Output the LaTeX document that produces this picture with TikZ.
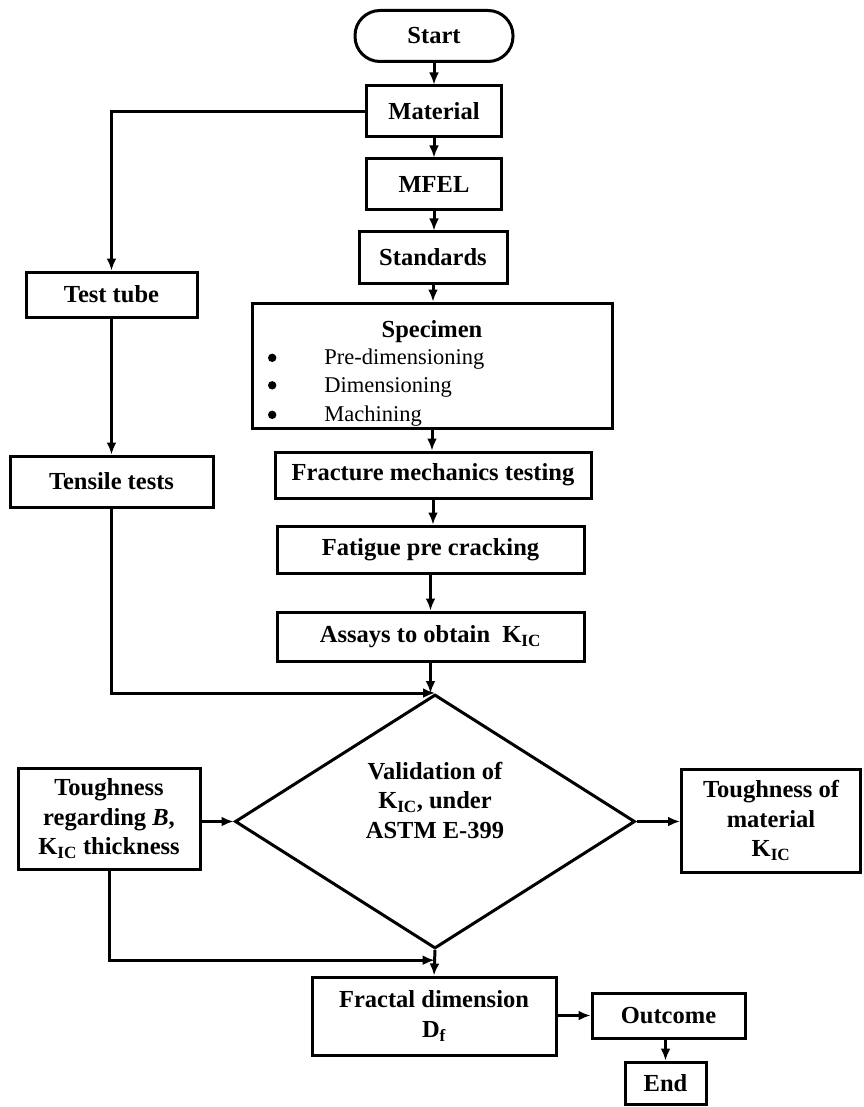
\documentclass[tikz,border=0pt]{standalone}
\usepackage{fontspec}
\setmainfont{Liberation Serif}
\usepackage{tikz}
\usetikzlibrary{arrows.meta,positioning,shapes.geometric,calc}

\newcommand{\kic}{K\textsubscript{IC}}
\newcommand{\bigbullet}{\tikz[baseline=0pt]\fill (0pt,7pt) circle (4.2pt);}

\begin{document}
\begin{tikzpicture}[
    x=1pt, y=-1pt,
    font=\bfseries\fontsize{24.5}{29.5}\selectfont,
    box/.style={draw=black, line width=3pt, align=center, inner sep=4pt},
    term/.style={box, rounded corners=25pt},
    decision/.style={draw=black, line width=3pt, diamond, inner sep=0pt,
      minimum width=400pt, minimum height=254pt},
    arrow/.style={-{Latex[length=12pt,width=10pt]}, line width=3pt, black}
  ]
    \useasboundingbox (0,0) rectangle (863,1107);

    % main column
    \node[term, minimum width=158pt, minimum height=51pt] (start) at (434,36) {Start};
    \node[box, minimum width=135pt, minimum height=51pt] (material) at (434,111.5) {Material};
    \node[box, minimum width=135pt, minimum height=51pt] (mfel) at (434,184.5) {MFEL};
    \node[box, minimum width=148pt, minimum height=51pt] (standards) at (433,257.5) {Standards};
    \node[box, text width=344pt, align=left, minimum height=125pt, inner xsep=8pt, inner ysep=1pt] (specimen) at (432,365.5)
      {{\centering\rule{0pt}{33pt}Specimen\par}\mdseries\fontsize{22.5}{27.5}\selectfont
       \hspace*{8pt}\bigbullet\hspace{48pt}Pre-dimensioning\\
       \hspace*{8pt}\bigbullet\hspace{48pt}Dimensioning\\
       \hspace*{8pt}\bigbullet\hspace{48pt}Machining};
    \node[box, minimum width=316pt, minimum height=46pt] (fracture) at (433,475) {Fracture mechanics testing};
    \node[box, minimum width=307pt, minimum height=47pt] (fatigue) at (430.5,549.5) {Fatigue pre cracking};
    \node[box, minimum width=307pt, minimum height=49pt] (assays) at (430.5,636.5) {Assays to obtain~~\kic};

    % left column
    \node[box, minimum width=171pt, minimum height=45pt] (testtube) at (111.5,294.5) {Test tube};
    \node[box, minimum width=203pt, minimum height=51pt] (tensile) at (111.5,481.5) {Tensile tests};

    % decision row
    \node[decision] (valid) at (435,821.5) {};
    \node[align=center] (validtext) at (435,800) {Validation of\\\kic, under\\ASTM E-399};
    \node[box, minimum width=182pt, minimum height=101pt] (toughb) at (109,818.5)
      {Toughness\\regarding \textit{B},\\\kic{} thickness};
    \node[box, minimum width=179pt, minimum height=103pt] (toughmat) at (771,820.5)
      {Toughness of\\material\\\kic};

    % bottom
    \node[box, minimum width=244pt, minimum height=78pt] (fractal) at (434,1016)
      {Fractal dimension\\D\textsubscript{f}};
    \node[box, minimum width=153pt, minimum height=45pt] (outcome) at (668.5,1015.5) {Outcome};
    \node[box, minimum width=81pt, minimum height=42pt] (finish) at (665.5,1083) {End};
    \coordinate (join) at ($(valid.south)!0.4!(fractal.north)$);

    \draw[arrow] (start) -- (material);
    \draw[arrow] (material) -- (mfel);
    \draw[arrow] (mfel.south) -- (mfel.south |- standards.north);
    \draw[arrow] (standards.south) -- (standards.south |- specimen.north);
    \draw[arrow] (specimen.south) -- (specimen.south |- fracture.north);
    \draw[arrow] (fracture.south) -- (fracture.south |- fatigue.north);
    \draw[arrow] (fatigue) -- (assays);
    \draw[arrow] (assays.south) -- (assays.south |- valid.north);
    \draw[arrow] (material.west) -| (testtube.north);
    \draw[arrow] (testtube) -- (tensile);
    \draw[arrow] (tensile.south) |- (valid.north);
    \draw[arrow] (toughb.east |- valid.west) -- (valid.west);
    \draw[arrow] (valid.east) -- (valid.east -| toughmat.west);
    \draw[arrow] (valid.south) -- (fractal.north);
    \draw[arrow] (toughb.south) |- (join);
    \draw[arrow] (fractal.east |- outcome.west) -- (outcome.west);
    \draw[arrow] (finish.north |- outcome.south) -- (finish.north);
  \end{tikzpicture}
\end{document}
